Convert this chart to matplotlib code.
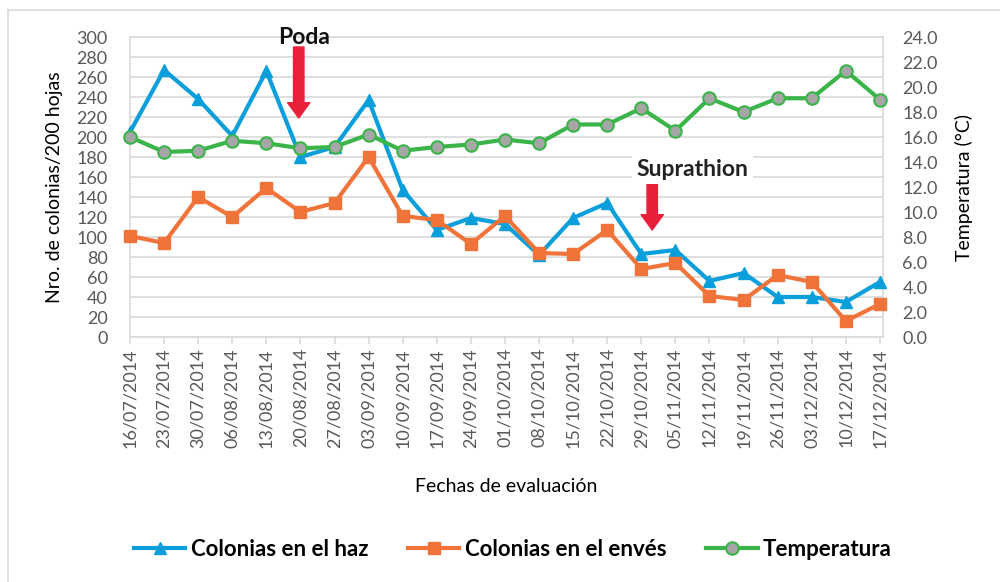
import matplotlib
matplotlib.use("Agg")
import matplotlib.pyplot as plt
from matplotlib.lines import Line2D

plt.rcParams['font.family'] = ['Lato', 'DejaVu Sans']

fechas = ["16/07/2014", "23/07/2014", "30/07/2014", "06/08/2014", "13/08/2014",
          "20/08/2014", "27/08/2014", "03/09/2014", "10/09/2014", "17/09/2014",
          "24/09/2014", "01/10/2014", "08/10/2014", "15/10/2014", "22/10/2014",
          "29/10/2014", "05/11/2014", "12/11/2014", "19/11/2014", "26/11/2014",
          "03/12/2014", "10/12/2014", "17/12/2014"]
haz = [205, 267, 238, 201, 266, 180, 190, 237, 147, 107, 119, 113, 82, 119, 134,
       83, 87, 56, 64, 40, 40, 35, 55]
enves = [101, 94, 140, 120, 149, 125, 134, 180, 121, 117, 93, 121, 84, 83, 107,
         68, 74, 41, 37, 62, 55, 16, 33]
temperatura = [16.0, 14.8, 14.9, 15.7, 15.5, 15.1, 15.2, 16.2, 14.9, 15.2, 15.4,
               15.8, 15.5, 17.0, 17.0, 18.3, 16.5, 19.1, 18.0, 19.1, 19.1, 21.3, 19.0]

c_blue = "#0A9FDB"
c_orange = "#F0743A"
c_green = "#3BB44A"
c_grid = "#D9D9D9"
c_tick = "#595959"

fig = plt.figure(figsize=(10, 5.82), dpi=100)
ax = fig.add_axes([0.13, 1 - 337 / 582, 0.753, 300 / 582])
x = list(range(len(fechas)))

ax.plot(x, haz, color=c_blue, lw=3, marker='^', ms=9, mec=c_blue, mfc=c_blue,
        clip_on=False, zorder=3)
ax.plot(x, enves, color=c_orange, lw=3, marker='s', ms=9, mec=c_orange, mfc=c_orange,
        clip_on=False, zorder=3)
ax.set_xlim(0, 22.09)
ax.set_ylim(0, 300)
ax.set_yticks(range(0, 301, 20))
ax.set_xticks(x)
ax.set_xticklabels(fechas, rotation=90)
ax.grid(axis='y', color=c_grid, lw=1.2)
ax.set_axisbelow(True)
for s in ax.spines.values():
    s.set_color(c_grid)
    s.set_linewidth(1.2)
ax.tick_params(axis='y', length=0, pad=16, labelsize=13, labelcolor=c_tick)
ax.tick_params(axis='x', length=5, color=c_grid, width=1.2, pad=3, labelsize=13,
               labelcolor=c_tick)
ax.set_ylabel("Nro. de colonias/200 hojas", fontsize=14, color="#000000", labelpad=10)
ax.set_xlabel("Fechas de evaluación", fontsize=14, color="#000000", labelpad=22)

ax2 = ax.twinx()
ax2.plot(x, temperatura, color=c_green, lw=3, marker='o', ms=9, mec=c_green,
         mfc="#A6A6A6", mew=1.5, clip_on=False, zorder=4)
ax2.set_ylim(0, 24)
ax2.set_yticks([i * 2 for i in range(13)])
ax2.set_yticklabels([f"{i * 2:.1f}" for i in range(13)])
ax2.tick_params(axis='y', length=0, pad=14, labelsize=13, labelcolor=c_tick)
for s in ax2.spines.values():
    s.set_visible(False)
ax2.set_ylabel("Temperatura (°C)", fontsize=14, color="#000000", labelpad=12)

red = "#E8203A"
ax.annotate('', xy=(4.95, 219), xytext=(4.95, 290),
            arrowprops=dict(arrowstyle='simple,head_length=1.1,head_width=1.6,tail_width=0.75',
                            color=red, mutation_scale=10, shrinkA=0, shrinkB=0), zorder=5)
ax.text(5.1, 300, "Poda", ha='center', va='center', fontsize=16.5, fontweight='bold',
        color='#111111', zorder=6)
ax.annotate('', xy=(15.32, 107), xytext=(15.32, 154),
            arrowprops=dict(arrowstyle='simple,head_length=1.1,head_width=1.6,tail_width=0.75',
                            color=red, mutation_scale=10, shrinkA=0, shrinkB=0), zorder=5)
ax.text(16.5, 168, "Suprathion", ha='center', va='center', fontsize=16.5, fontweight='bold',
        color='#222222', zorder=6,
        bbox=dict(facecolor='white', edgecolor='none', pad=3))

handles = [
    Line2D([], [], color=c_blue, lw=3, marker='^', ms=9, mfc=c_blue, mec=c_blue),
    Line2D([], [], color=c_orange, lw=3, marker='s', ms=9, mfc=c_orange, mec=c_orange),
    Line2D([], [], color=c_green, lw=3, marker='o', ms=9, mfc="#A6A6A6", mec=c_green, mew=1.5),
]
fig.legend(handles, ["Colonias en el haz", "Colonias en el envés", "Temperatura"],
           loc='center', bbox_to_anchor=(0.513, 1 - 549 / 582), ncol=3, frameon=False,
           prop={'size': 16, 'weight': 'bold'}, handlelength=2.3, handletextpad=0.25,
           columnspacing=1.8)

fig.add_artist(Line2D([8 / 1000, 8 / 1000], [0, 1 - 10 / 582], color=c_grid, lw=1.2,
                      transform=fig.transFigure))
fig.add_artist(Line2D([8 / 1000, 1], [1 - 10 / 582, 1 - 10 / 582], color=c_grid, lw=1.2,
                      transform=fig.transFigure))

fig.savefig("out.png", dpi=100)
